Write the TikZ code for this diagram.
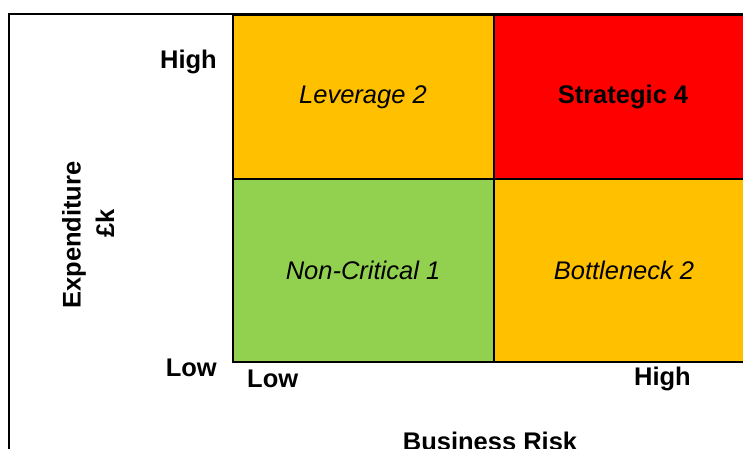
\documentclass[tikz,border=0pt]{standalone}
\usepackage{fontspec}
\setmainfont{Liberation Sans}
\begin{document}
\begin{tikzpicture}[x=1pt,y=-1pt,
  cell/.style={draw=black,line width=2pt,minimum width=261pt,minimum height=183.5pt,anchor=north west,inner sep=0pt},
  lbl/.style={font=\fontsize{25.5}{28}\selectfont\bfseries,inner sep=0pt},
  celltext/.style={font=\fontsize{25.5}{28}\selectfont\itshape,inner sep=0pt}]
\useasboundingbox (0,0) rectangle (743,448);
\clip (0,0) rectangle (743,448);
\draw[line width=2pt] (9,500) -- (9,14) -- (800,14);
\node[cell,fill={rgb,255:red,255;green,192;blue,0}] (lev) at (232,14) {};
\node[cell,fill={rgb,255:red,255;green,0;blue,0}] (str) at (493,14) {};
\node[cell,fill={rgb,255:red,146;green,208;blue,80}] (non) at (232,177.5) {};
\node[cell,fill={rgb,255:red,255;green,192;blue,0}] (bot) at (493,177.5) {};
\node[celltext] (t1) at (363,97) {Leverage 2};
\node[lbl] (t2) at (623,97) {Strategic 4};
\node[celltext] (t3) at (363,270) {Non-Critical 1};
\node[celltext] (t4) at (624,270) {Bottleneck 2};
\node[lbl,anchor=east] (yh) at (217,62) {High};
\node[lbl,anchor=east] (yl) at (217,368) {Low};
\node[lbl,anchor=west] (xl) at (247,379) {Low};
\node[lbl,anchor=east] (xh) at (691,379) {High};
\node[lbl,rotate=90] (ye) at (74,235) {Expenditure};
\node[lbl,rotate=90] (yk) at (105,223) {£k};
\node[lbl] (xb) at (490,441) {Business Risk};
\end{tikzpicture}
\end{document}
